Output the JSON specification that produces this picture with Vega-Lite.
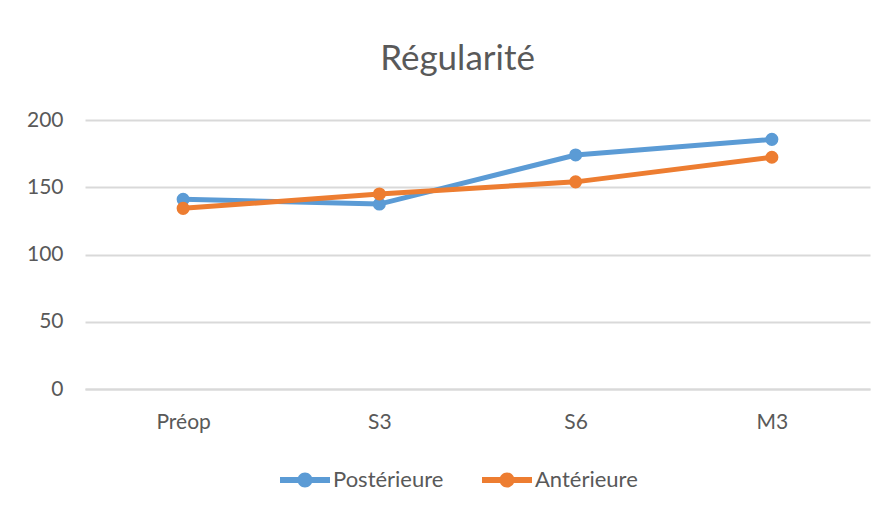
{
  "$schema": "https://vega.github.io/schema/vega-lite/v6.json",
  "width": 785,
  "height": 269,
  "autosize": {"type": "none"},
  "padding": {"left": 85, "top": 120, "right": 26, "bottom": 130},
  "background": "white",
  "title": {"text": "Régularité", "fontSize": 35, "fontWeight": "normal", "color": "#595959", "font": "Lato", "offset": 32, "dx": -20},
  "config": {
    "view": {"stroke": null},
    "font": "Lato"
  },
  "data": {"values": [
    {"periode": "Préop", "serie": "Postérieure", "valeur": 141},
    {"periode": "S3", "serie": "Postérieure", "valeur": 137.5},
    {"periode": "S6", "serie": "Postérieure", "valeur": 174},
    {"periode": "M3", "serie": "Postérieure", "valeur": 185.6},
    {"periode": "Préop", "serie": "Antérieure", "valeur": 134.3},
    {"periode": "S3", "serie": "Antérieure", "valeur": 145},
    {"periode": "S6", "serie": "Antérieure", "valeur": 154},
    {"periode": "M3", "serie": "Antérieure", "valeur": 172.3}
  ]},
  "mark": {"type": "line", "strokeWidth": 5, "point": {"filled": true, "size": 170, "opacity": 1}},
  "encoding": {
    "x": {"field": "periode", "type": "ordinal", "sort": ["Préop", "S3", "S6", "M3"],
      "scale": {"type": "point", "padding": 0.5},
      "axis": {"title": null, "labelAngle": 0, "labelFontSize": 21, "labelColor": "#595959", "labelPadding": 22, "ticks": false, "domainColor": "#d9d9d9", "domainWidth": 2, "grid": false}},
    "y": {"field": "valeur", "type": "quantitative",
      "scale": {"domain": [0, 200]},
      "axis": {"title": null, "values": [0, 50, 100, 150, 200], "labelFontSize": 21, "labelColor": "#595959", "labelPadding": 22, "ticks": false, "domain": false, "gridColor": "#d9d9d9", "gridWidth": 2}},
    "color": {"field": "serie", "type": "nominal",
      "scale": {"domain": ["Postérieure", "Antérieure"], "range": ["#5B9BD5", "#ED7D31"]},
      "legend": {"title": null, "orient": "none", "legendX": 195, "legendY": 335, "direction": "horizontal",
        "labelFontSize": 22, "labelColor": "#595959", "labelOffset": 3, "columnPadding": 38,
        "symbolType": "M-1,-0.12 H1 V0.12 H-1 Z M-0.3,0 A0.3,0.3 0 1,1 0.3,0 A0.3,0.3 0 1,1 -0.3,0 Z",
        "symbolSize": 2500, "symbolStrokeWidth": 0, "symbolOpacity": 1}}
  }
}
